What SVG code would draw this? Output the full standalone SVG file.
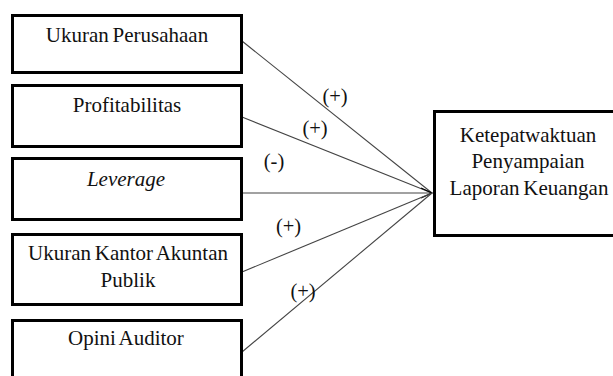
<svg xmlns="http://www.w3.org/2000/svg" width="613" height="376" viewBox="0 0 613 376">
<style>
.box{fill:#fff;stroke:#000;stroke-width:3}
.t{font-family:"Liberation Serif","Times New Roman",serif;font-size:21px;fill:#111;text-anchor:middle;word-spacing:-1.5px}
.lab{font-family:"Liberation Serif","Times New Roman",serif;font-size:20.5px;fill:#111;text-anchor:middle}
.ln{stroke:#444;stroke-width:1.1;fill:none}
</style>
<defs>
<marker id="arr" markerWidth="14" markerHeight="12" refX="12" refY="6" orient="auto" markerUnits="userSpaceOnUse">
<path d="M1,1 L12,6 L1,11" fill="none" stroke="#000" stroke-width="1.2"/>
</marker>
</defs>
<rect width="613" height="376" fill="#fff"/>
<g id="connectors">
<line class="ln" x1="242" y1="41" x2="432" y2="193"/>
<line class="ln" x1="242" y1="117" x2="432" y2="193"/>
<line class="ln" x1="242" y1="193" x2="432" y2="193" stroke="#000" marker-end="url(#arr)"/>
<line class="ln" x1="242" y1="272" x2="432" y2="193"/>
<line class="ln" x1="242" y1="352" x2="432" y2="193"/>
<text class="lab" x="335" y="103">(+)</text>
<text class="lab" x="315" y="135">(+)</text>
<text class="lab" x="274" y="168">(-)</text>
<text class="lab" x="288.5" y="233">(+)</text>
<text class="lab" x="303" y="298">(+)</text>
</g>
<g id="ukuran-perusahaan">
<rect class="box" x="12.5" y="15.5" width="229" height="57"/>
<text class="t" x="127" y="42">Ukuran Perusahaan</text>
</g>
<g id="profitabilitas">
<rect class="box" x="12.5" y="85.5" width="229" height="61"/>
<text class="t" x="127" y="112">Profitabilitas</text>
</g>
<g id="leverage">
<rect class="box" x="12.5" y="158.5" width="229" height="61"/>
<text class="t" x="126" y="186" font-style="italic">Leverage</text>
</g>
<g id="ukuran-kap">
<rect class="box" x="12.5" y="234.5" width="229" height="70"/>
<text class="t" x="128" y="260">Ukuran Kantor Akuntan</text>
<text class="t" x="128" y="287">Publik</text>
</g>
<g id="opini-auditor">
<rect class="box" x="12.5" y="320.5" width="229" height="70"/>
<text class="t" x="126" y="345">Opini Auditor</text>
</g>
<g id="ketepatwaktuan">
<rect class="box" x="434.5" y="111.5" width="190" height="124"/>
<text class="t" x="528" y="142">Ketepatwaktuan</text>
<text class="t" x="528" y="168">Penyampaian</text>
<text class="t" x="529" y="195">Laporan Keuangan</text>
</g>
</svg>
